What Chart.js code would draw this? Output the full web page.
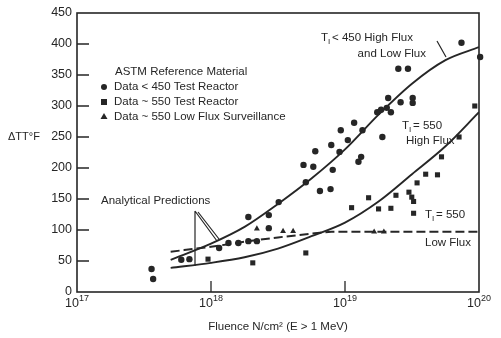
<!DOCTYPE html>
<html>
<head>
<meta charset="utf-8">
<script src="https://cdn.jsdelivr.net/npm/chart.js@4.4.1/dist/chart.umd.min.js"></script>
<style>
  html, body { margin: 0; padding: 0; background: #fff; }
  #wrap { width: 501px; height: 338px; }
</style>
</head>
<body>
<div id="wrap"><canvas id="chart" width="501" height="338"></canvas></div>
<script>
// fluence (n/cm2) and transition temperature shift (F)
const circleFluence = [3.6e17, 3.7e17, 6.0e17, 6.9e17, 1.15e18, 1.35e18, 1.6e18, 1.9e18, 2.2e18, 1.9e18,
  2.7e18, 2.7e18, 3.2e18, 5.1e18, 4.9e18, 5.8e18, 6.5e18, 7.8e18, 6.0e18, 7.9e18,
  9.1e18, 8.1e18, 9.3e18, 1.05e19, 1.17e19, 1.26e19, 1.32e19, 1.35e19, 2.5e19, 2.95e19,
  2.1e19, 2.6e19, 3.2e19, 3.2e19, 1.86e19, 2.05e19, 2.2e19, 1.74e19, 1.9e19, 7.4e19,
  1.02e20, 1.17e20];
const circleShift = [37, 21, 52, 53, 71, 79, 79, 82, 82, 121,
  124, 103, 145, 177, 205, 202, 163, 166, 227, 237,
  226, 197, 261, 245, 273, 210, 218, 261, 360, 360,
  313, 306, 313, 305, 294, 297, 290, 290, 250, 402,
  379, 379];

const squareFluence = [9.5e17, 2.05e18, 5.1e18, 1.12e19, 1.5e19, 1.78e19, 2.2e19, 2.4e19, 3.0e19,
  3.15e19, 3.25e19, 3.25e19, 3.45e19, 4.0e19, 4.9e19, 5.25e19, 7.1e19, 9.3e19];
const squareShift = [53, 47, 63, 136, 152, 134, 135, 156, 161,
  153, 146, 127, 176, 190, 189, 218, 250, 300];

const triangleFluence = [2.2e18, 3.45e18, 4.1e18, 1.65e19, 1.95e19];
const triangleShift = [102, 98, 98, 97, 97];

// analytical prediction curves
const curveFluence = [5.0e17, 1.0e18, 1.78e18, 3.16e18, 5.62e18, 1.0e19, 1.78e19, 3.16e19, 5.62e19, 1.0e20];
const lowTempShift = [52, 78, 105, 142, 183, 230, 286, 336, 374, 395];
const highFluxShift = [39, 47, 56, 70, 90, 112, 146, 190, 235, 290];
const lowFluxFluence = [5.0e17, 1.0e18, 1.78e18, 3.16e18, 5.62e18, 7.94e18, 1.0e20];
const lowFluxShift = [65, 73, 81, 88, 94, 97, 97];

const xTicks = [1e17, 1e18, 1e19, 1e20];
const xTickExponents = ['17', '18', '19', '20'];
const yTicks = [0, 50, 100, 150, 200, 250, 300, 350, 400, 450];

const ink = '#262626';
const fontFamily = "'Liberation Sans', Arial, Helvetica, sans-serif";
Chart.defaults.font.family = fontFamily;
Chart.defaults.color = ink;

const toPts = (xs, ys) => xs.map((x, i) => ({ x, y: ys[i] }));

// T with a small subscript I
function drawTi(ctx, x, y, rest) {
  ctx.font = '11.5px ' + fontFamily;
  ctx.fillText('T', x, y);
  const w = ctx.measureText('T').width;
  ctx.font = '8px ' + fontFamily;
  ctx.fillText('I', x + w, y + 4);
  ctx.font = '11.5px ' + fontFamily;
  ctx.fillText(rest, x + w + 4, y);
}

const framePlugin = {
  id: 'frame',
  afterDraw(chart) {
    const { ctx, chartArea: a, scales: { x, y } } = chart;
    ctx.save();
    ctx.strokeStyle = ink;
    ctx.lineWidth = 1.6;
    ctx.strokeRect(a.left, a.top, a.right - a.left, a.bottom - a.top);

    // inner tick marks
    ctx.lineWidth = 1.3;
    ctx.beginPath();
    yTicks.slice(1, -1).forEach(v => {
      const py = y.getPixelForValue(v);
      ctx.moveTo(a.left, py);
      ctx.lineTo(a.left + 12, py);
    });
    xTicks.slice(1, -1).forEach(v => {
      const px = x.getPixelForValue(v);
      ctx.moveTo(px, a.bottom);
      ctx.lineTo(px, a.bottom - 11);
    });
    ctx.stroke();

    ctx.fillStyle = ink;
    ctx.textBaseline = 'middle';

    // decade labels, 10 with a raised exponent
    xTicks.forEach((v, i) => {
      const px = x.getPixelForValue(v);
      ctx.font = '12.5px ' + fontFamily;
      const w1 = ctx.measureText('10').width;
      ctx.font = '9px ' + fontFamily;
      const w2 = ctx.measureText(xTickExponents[i]).width;
      const left = px - (w1 + w2) / 2;
      ctx.textAlign = 'left';
      ctx.font = '12.5px ' + fontFamily;
      ctx.fillText('10', left, a.bottom + 12);
      ctx.font = '9px ' + fontFamily;
      ctx.fillText(xTickExponents[i], left + w1, a.bottom + 7);
    });

    ctx.textAlign = 'left';
    ctx.font = '11px ' + fontFamily;
    ctx.fillText('ΔTT°F', 8, y.getPixelForValue(250));

    // key block
    ctx.font = '11.5px ' + fontFamily;
    ctx.fillText('ASTM Reference Material', 115, 72);
    const rows = ['Data < 450 Test Reactor', 'Data ~ 550 Test Reactor', 'Data ~ 550 Low Flux Surveillance'];
    rows.forEach((t, i) => ctx.fillText(t, 114, 87 + i * 15));
    ctx.beginPath();
    ctx.arc(104, 87, 3, 0, Math.PI * 2);
    ctx.fill();
    ctx.fillRect(101, 99, 6, 6);
    ctx.beginPath();
    ctx.moveTo(104, 113);
    ctx.lineTo(107.5, 119);
    ctx.lineTo(100.5, 119);
    ctx.closePath();
    ctx.fill();

    // curve labels
    drawTi(ctx, 321, 38, '< 450 High Flux');
    ctx.textAlign = 'right';
    ctx.fillText('and Low Flux', 426, 54);
    ctx.textAlign = 'left';
    drawTi(ctx, 402, 126, '= 550');
    ctx.fillText('High Flux', 406, 141);
    drawTi(ctx, 425, 215, '= 550');
    ctx.fillText('Low Flux', 425, 243);
    ctx.fillText('Analytical Predictions', 101, 201);

    // leader lines
    ctx.lineWidth = 1.2;
    ctx.beginPath();
    ctx.moveTo(437, 41);
    ctx.lineTo(446, 57);
    ctx.moveTo(195, 211);
    ctx.lineTo(195, 266);
    ctx.moveTo(195, 211);
    ctx.lineTo(217, 241);
    ctx.moveTo(198, 212);
    ctx.lineTo(219, 239);
    ctx.stroke();
    ctx.restore();
  }
};

const lineStyle = { showLine: true, borderColor: ink, borderWidth: 1.9, pointRadius: 0, cubicInterpolationMode: 'monotone', fill: false };

new Chart(document.getElementById('chart'), {
  type: 'scatter',
  data: {
    datasets: [
      { label: 'T < 450', data: toPts(curveFluence, lowTempShift), ...lineStyle },
      { label: 'T = 550 High Flux', data: toPts(curveFluence, highFluxShift), ...lineStyle },
      { label: 'T = 550 Low Flux', data: toPts(lowFluxFluence, lowFluxShift), ...lineStyle, borderWidth: 2, borderDash: [9, 4] },
      { label: 'Data < 450 Test Reactor', data: toPts(circleFluence, circleShift), pointStyle: 'circle', pointRadius: 3.2, backgroundColor: ink, borderColor: ink, borderWidth: 0, clip: false },
      { label: 'Data ~ 550 Test Reactor', data: toPts(squareFluence, squareShift), pointStyle: 'rect', pointRadius: 3.6, backgroundColor: ink, borderColor: ink, borderWidth: 0, clip: false },
      { label: 'Data ~ 550 Low Flux Surveillance', data: toPts(triangleFluence, triangleShift), pointStyle: 'triangle', pointRadius: 3.4, backgroundColor: ink, borderColor: ink, borderWidth: 0, clip: false },
    ],
  },
  options: {
    responsive: false,
    animation: false,
    layout: { padding: { top: 13, right: 22, left: 0, bottom: 0 } },
    plugins: { legend: { display: false }, tooltip: { enabled: false } },
    scales: {
      x: {
        type: 'logarithmic',
        min: 1e17,
        max: 1e20,
        afterBuildTicks: (s) => { s.ticks = xTicks.map(v => ({ value: v })); },
        afterFit: (s) => { s.height = 46; },
        grid: { display: false, drawTicks: false },
        border: { display: false },
        ticks: { display: false },
        title: { display: true, text: 'Fluence N/cm² (E > 1 MeV)', font: { size: 11.5 }, padding: { top: 2, bottom: 4 } },
      },
      y: {
        min: 0,
        max: 450,
        afterBuildTicks: (s) => { s.ticks = yTicks.map(v => ({ value: v })); },
        afterFit: (s) => { s.width = 77; },
        grid: { display: false, drawTicks: false },
        border: { display: false },
        ticks: { padding: 5, font: { size: 12.5 } },
      },
    },
  },
  plugins: [framePlugin],
});
</script>
</body>
</html>
